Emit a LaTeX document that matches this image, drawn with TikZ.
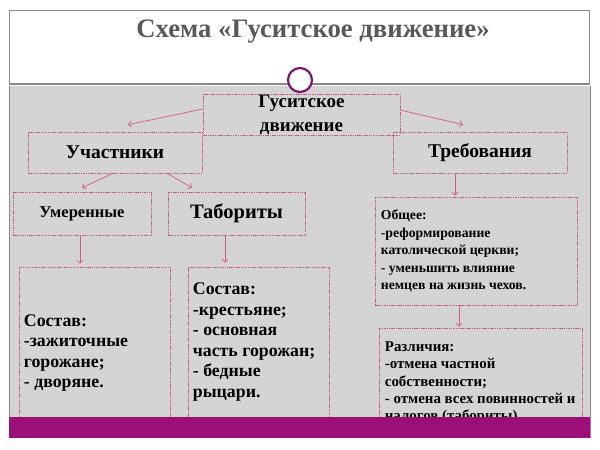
\documentclass[tikz,border=0pt]{standalone}
\usepackage{fontspec}
\setmainfont{Liberation Serif}
\usetikzlibrary{arrows.meta,calc}
\definecolor{framegray}{HTML}{8A8A8A}
\definecolor{panelgray}{HTML}{D4D4D4}
\definecolor{titlegray}{HTML}{595959}
\definecolor{boxpink}{HTML}{C0607E}
\definecolor{arrowpink}{HTML}{D45A80}
\definecolor{bandpurple}{HTML}{9C0E78}
\definecolor{ringpurple}{HTML}{7A1670}
\begin{document}
\begin{tikzpicture}[x=1pt,y=-1pt,>={Straight Barb[length=3pt,width=6pt]},
  box/.style={draw=boxpink,dash pattern=on 1.5pt off 0.8pt,line width=0.6pt,inner sep=0pt},
  head/.style={font=\bfseries\fontsize{19.5}{22}\selectfont},
  txt/.style={align=left,inner sep=0pt,font=\bfseries\fontsize{17.8}{20.5}\selectfont},
  small/.style={align=left,inner sep=0pt,font=\bfseries\fontsize{13.7}{17.6}\selectfont},
  arr/.style={->,draw=arrowpink,line width=0.7pt}]
\useasboundingbox (0,0) rectangle (600,450);
\fill[white] (0,0) rectangle (600,450);
\draw[framegray,fill=white] (9,10) rectangle (589,84);
\fill[panelgray] (9,86) rectangle (590,418);
\draw[framegray] (9,86) -- (9,438) (590,86) -- (590,438);
\draw[framegray,line width=1.4pt] (9,84) -- (589,84);
\node[text=titlegray,font=\bfseries\fontsize{26.7}{30}\selectfont] (title) at (313,32) {Схема «Гуситское движение»};
\draw[ringpurple,line width=2.2pt,fill=white] (300,80) circle (12);

\node[box,minimum width=197pt,minimum height=41pt,align=center,font=\bfseries\fontsize{19}{24}\selectfont] (gd) at (301.5,114.5) {Гуситское\\движение};
\node[box,head,minimum width=174pt,minimum height=41pt] (uch) at (115,152.5) {Участники};
\node[box,head,minimum width=174pt,minimum height=41pt] (treb) at (480,152.5) {Требования};
\node[box,minimum width=138pt,minimum height=43pt,font=\bfseries\fontsize{16.5}{19}\selectfont] (umer) at (82,213.5) {Умеренные};
\node[box,minimum width=137pt,minimum height=43pt,font=\bfseries\fontsize{20.5}{24}\selectfont] (tab) at (236.5,213.5) {Табориты};
\node[box,minimum width=151pt,minimum height=170pt] (sost1) at (94.5,352) {};
\node[box,minimum width=141pt,minimum height=170pt] (sost2) at (258.5,352) {};
\node[box,minimum width=202pt,minimum height=108pt] (obsh) at (476,251) {};
\node[box,minimum width=203pt,minimum height=109pt] (razl) at (480.5,382.5) {};

\node[txt,anchor=west] (sost1t) at ([xshift=5pt,yshift=-1pt]sost1.west) {Состав:\\-зажиточные\\горожане;\\- дворяне.};
\node[txt,anchor=north west] (sost2t) at ([xshift=5pt,yshift=-16pt]sost2.north west) {Состав:\\-крестьяне;\\- основная\\часть горожан;\\- бедные\\рыцари.};
\node[small,anchor=west] (obsht) at ([xshift=6pt]obsh.west) {Общее:\\-реформирование\\католической церкви;\\- уменьшить влияние\\немцев на жизнь чехов.};
\node[small,anchor=north west,font=\bfseries\fontsize{14.9}{17.3}\selectfont] (razlt) at ([xshift=6pt,yshift=-14pt]razl.north west) {Различия:\\-отмена частной\\собственности;\\- отмена всех повинностей и\\налогов (табориты).};

\draw[arr] ([yshift=5.5pt]gd.west) -- ($(uch.north)+(13,-7)$);
\draw[arr] ([yshift=4.5pt]gd.east) -- ($(treb.north)+(-17,-7)$);
\draw[arr] ([xshift=-2pt]uch.south) -- ($(umer.north)+(0,-4)$);
\draw[arr] ([xshift=52pt]uch.south) -- ($(tab.north)+(-44.5,-4)$);
\draw[arr] ([xshift=-2pt]umer.south) -- ($(sost1.north)+(-14.5,-3)$);
\draw[arr] ([xshift=-11.5pt]tab.south) -- ($(sost2.north)+(-33.5,-4)$);
\draw[arr] ([xshift=-25pt]treb.south) -- ($(obsh.north)+(-21,-1)$);
\draw[arr] ([xshift=-17pt]obsh.south) -- ($(razl.north)+(-21.5,-1)$);

\fill[bandpurple] (9,417) rectangle (590,438);
\end{tikzpicture}
\end{document}
